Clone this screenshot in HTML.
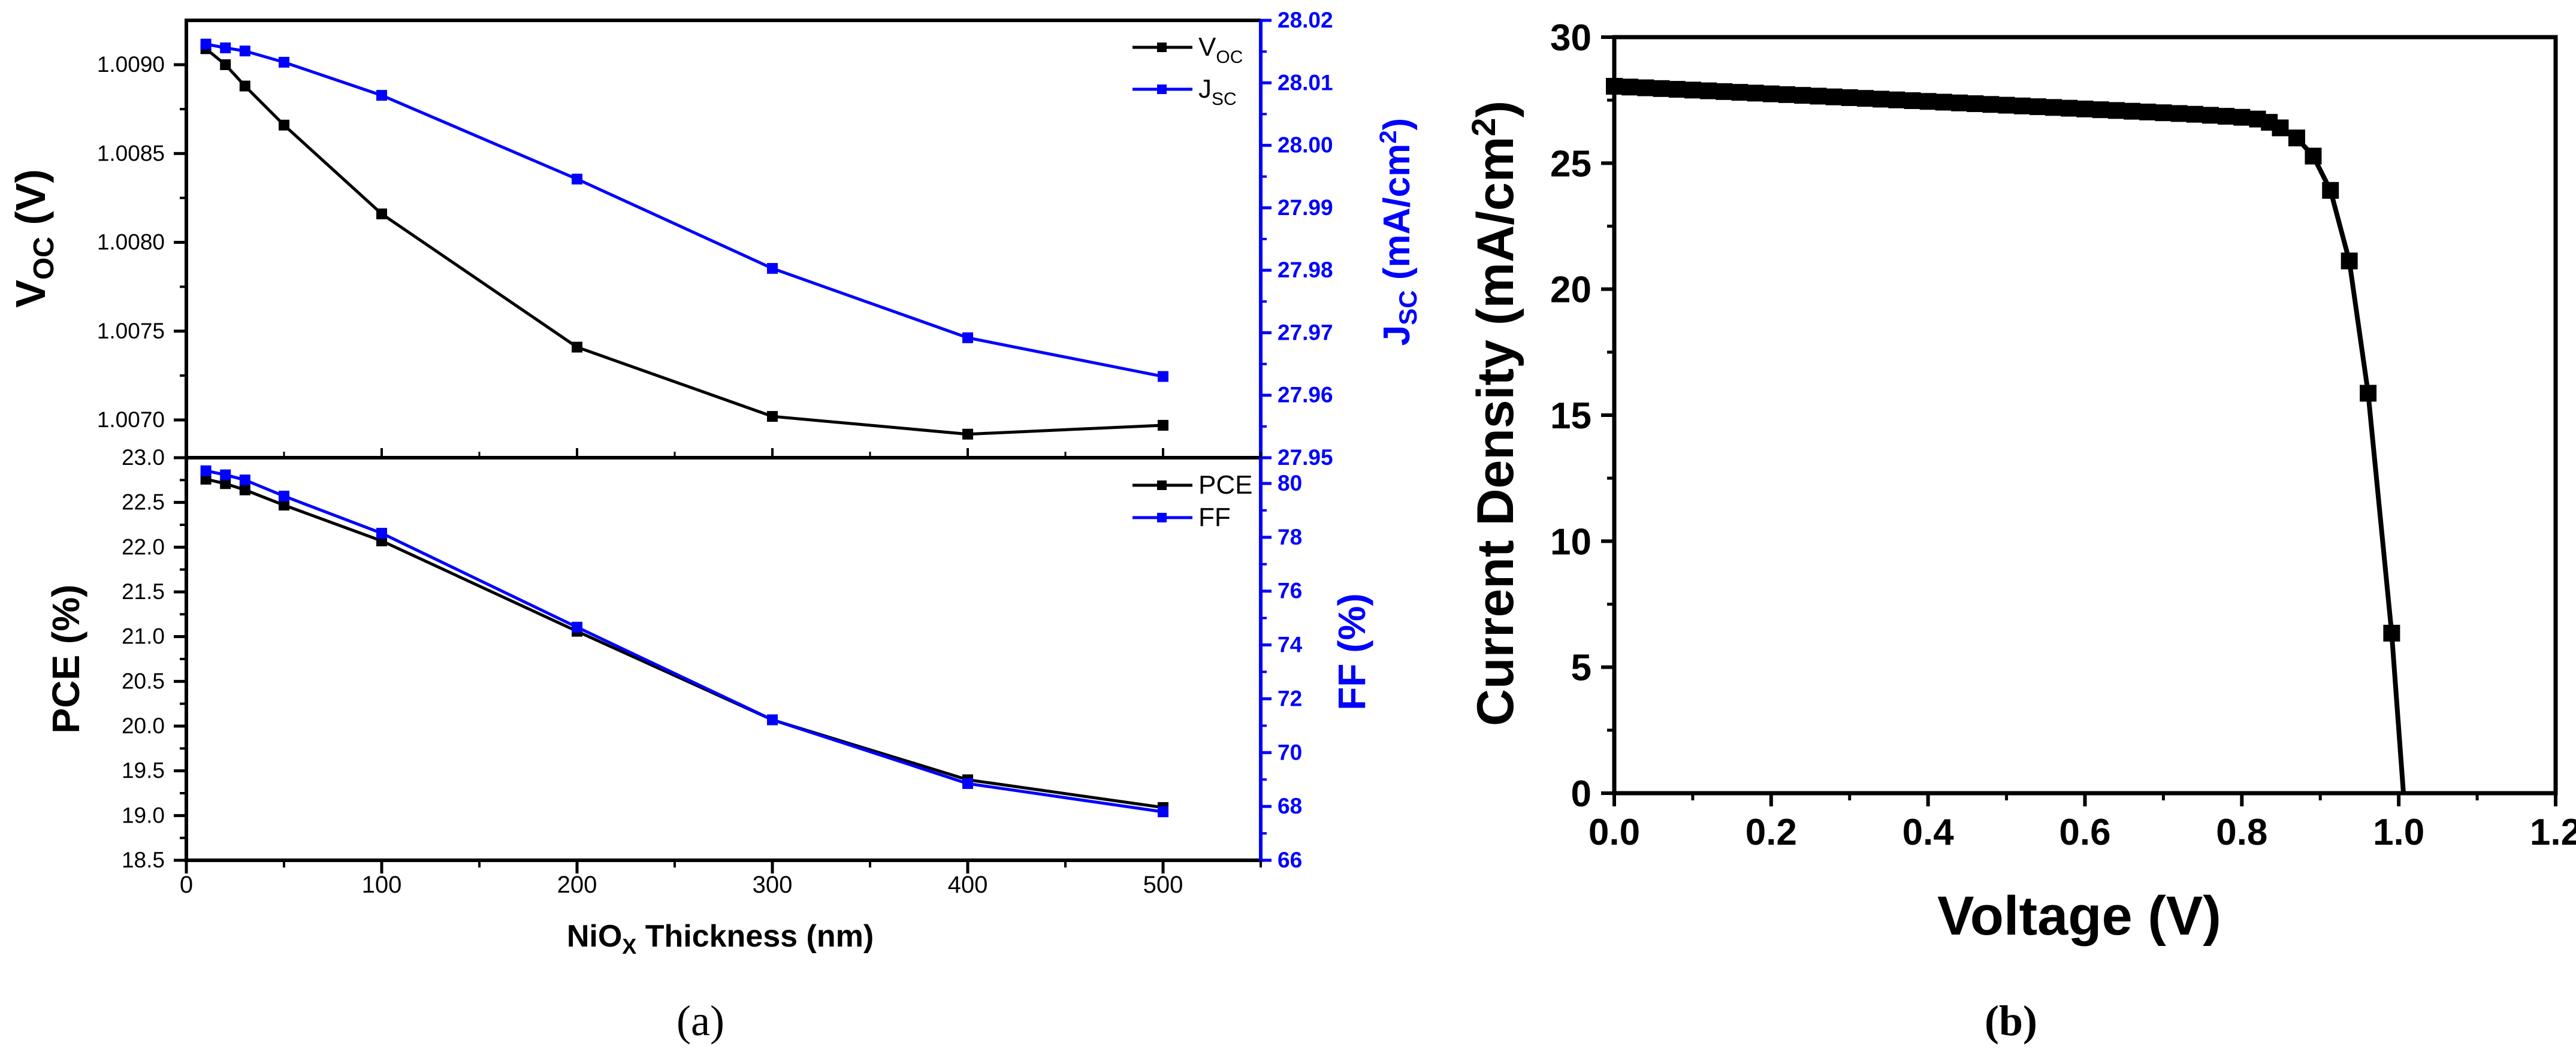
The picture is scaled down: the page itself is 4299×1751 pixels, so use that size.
<!DOCTYPE html>
<html><head><meta charset="utf-8"><style>
html,body{margin:0;padding:0;background:#fff;}
svg{display:block;}
.n{font-family:"Liberation Sans Narrow","Liberation Sans",sans-serif;}
.b{font-family:"Liberation Sans",sans-serif;font-weight:bold;}
.s{font-family:"Liberation Serif",serif;}
</style></head>
<body>
<svg id="fig" width="4299" height="1751" viewBox="0 0 4299 1751" xmlns="http://www.w3.org/2000/svg"></svg>
<script>
// ---- Panel (a) data ----
const thickness = [10,20,30,50,100,200,300,400,500];
const vocValues = [1.00909,1.00900,1.00888,1.00866,1.00816,1.00741,1.00702,1.00692,1.00697];
const jscValues = [28.0162,28.0156,28.0151,28.0133,28.0080,27.9946,27.9803,27.9692,27.9630];
const pceValues = [22.76,22.71,22.64,22.47,22.07,21.06,20.07,19.40,19.09];
const ffValues  = [80.47,80.32,80.13,79.53,78.15,74.66,71.22,68.85,67.80];
const xTicksA = [0,100,200,300,400,500];
const vocTicks = ["1.0070","1.0075","1.0080","1.0085","1.0090"];
const jscTicks = ["27.95","27.96","27.97","27.98","27.99","28.00","28.01","28.02"];
const pceTicks = ["18.5","19.0","19.5","20.0","20.5","21.0","21.5","22.0","22.5","23.0"];
const ffTicks = ["66","68","70","72","74","76","78","80"];
// ---- Panel (b) data ----
const voltage = [0,0.02,0.04,0.06,0.08,0.10,0.12,0.14,0.16,0.18,0.20,0.22,0.24,0.26,0.28,0.30,0.32,0.34,0.36,0.38,0.40,0.42,0.44,0.46,0.48,0.50,0.52,0.54,0.56,0.58,0.60,0.62,0.64,0.66,0.68,0.70,0.72,0.74,0.76,0.78,0.80,0.82,0.835,0.849,0.870,0.891,0.913,0.937,0.961,0.991];
const current = [28.05,28.02,27.99,27.96,27.93,27.90,27.87,27.84,27.81,27.78,27.75,27.72,27.69,27.66,27.63,27.60,27.57,27.54,27.51,27.48,27.45,27.42,27.39,27.36,27.33,27.30,27.27,27.24,27.21,27.18,27.15,27.12,27.09,27.06,27.03,27.00,26.97,26.94,26.90,26.86,26.82,26.75,26.62,26.40,26.00,25.28,23.92,21.12,15.87,6.35];
const vocEnd = [1.006, 0];
const xTicksB = ["0.0","0.2","0.4","0.6","0.8","1.0","1.2"];
const yTicksB = ["0","5","10","15","20","25","30"];

const NS="http://www.w3.org/2000/svg";
const svg=document.getElementById('fig');
function mk(tag,attrs,name,parent){
  const el=document.createElementNS(NS,tag);
  for(const k in attrs) el.setAttribute(k,attrs[k]);
  
  
  (parent||svg).appendChild(el);
  return el;
}
function line(x1,y1,x2,y2,c,w,name){return mk('line',{x1,y1,x2,y2,stroke:c,'stroke-width':w},name);}
function txt(x,y,s,cls,size,anchor,fill,name,extra){
  const t=mk('text',Object.assign({x,y,'class':cls,'font-size':size,'text-anchor':anchor,fill},extra||{}),name);
  t.textContent=s;return t;
}

const xA=v=>311+v*(1941-311)/500;
const yV=v=>108+(1.0090-v)/0.0005*148.25;
const yJ=v=>34+(28.02-v)/0.07*730;
const yP=v=>764+(23-v)/4.5*672;
const yF=v=>1436-(v-66)*44.93;
const xB=v=>2694+v/1.2*1571;
const yB=v=>1324-v/30*1262;

function series(xs,ys,fx,fy,color,name,ms,lw){
  const pts=xs.map((x,i)=>fx(x)+','+fy(ys[i])).join(' ');
  mk('polyline',{points:pts,fill:'none',stroke:color,'stroke-width':lw,'stroke-linejoin':'round'},name+'-line');
  xs.forEach((x,i)=>{
    mk('rect',{x:fx(x)-ms/2,y:fy(ys[i])-ms/2,width:ms,height:ms,fill:color},name+'-marker');
  });
}

line(311,34,2104,34,'#000',6,'top-panel-top-border');
line(311,31,311,1439,'#000',6,'left-axis-a');
line(308,1436,2104,1436,'#000',6,'x-axis-a');
line(308,764,2104,764,'#000',6,'panel-divider');
line(2104,34,2104,1439,'#0000ff',6,'right-axis-a');

vocTicks.forEach((s,i)=>{
  const y=yV(parseFloat(s));
  line(290,y,311,y,'#000',5,'voc-tick');
  txt(275,y+12,s,'n',37,'end','#000','voc-tick-label');
  const ym=yV(parseFloat(s)+0.00025);
  if(ym>34) line(300,ym,311,ym,'#000',4,'voc-minor-tick');
});
jscTicks.forEach((s,i)=>{
  const y=yJ(parseFloat(s));
  line(2104,y,2122,y,'#0000ff',5,'jsc-tick');
  txt(2132,y+12,s,'n',37,'start','#0000ff','jsc-tick-label',{'font-weight':'bold'});
  const ym=yJ(parseFloat(s)+0.005);
  if(ym>34) line(2104,ym,2114,ym,'#0000ff',4,'jsc-minor-tick');
});
pceTicks.forEach((s,i)=>{
  const y=yP(parseFloat(s));
  line(290,y,311,y,'#000',5,'pce-tick');
  txt(275,y+12,s,'n',37,'end','#000','pce-tick-label');
  const ym=yP(parseFloat(s)+0.25);
  if(ym>764) line(300,ym,311,ym,'#000',4,'pce-minor-tick');
});
ffTicks.forEach((s,i)=>{
  const y=yF(parseFloat(s));
  line(2104,y,2122,y,'#0000ff',5,'ff-tick');
  txt(2132,y+12,s,'n',37,'start','#0000ff','ff-tick-label',{'font-weight':'bold'});
  const ym=yF(parseFloat(s)+1);
  if(ym>764) line(2104,ym,2114,ym,'#0000ff',4,'ff-minor-tick');
});
xTicksA.forEach(v=>{
  const x=xA(v);
  line(x,1436,x,1458,'#000',5,'x-tick-a');
  line(x,764,x,748,'#000',4,'divider-tick');
  txt(x,1490,String(v),'n',40,'middle','#000','x-tick-label-a');
  const xm=xA(v+50);
  line(xm,1436,xm,1448,'#000',4,'x-minor-tick-a');
  line(xm,764,xm,754,'#000',3,'divider-minor-tick');
});

series(thickness,vocValues,xA,yV,'#000','voc-series',18,5);
series(thickness,jscValues,xA,yJ,'#0000ff','jsc-series',18,5);
series(thickness,pceValues,xA,yP,'#000','pce-series',18,5);
series(thickness,ffValues,xA,yF,'#0000ff','ff-series',18,5);

function legend(y,color,label,sub,name){
  line(1890,y,1990,y,color,5,name+'-line');
  mk('rect',{x:1931,y:y-8,width:16,height:16,fill:color},name+'-marker');
  const t=txt(2000,y+14,label,'n',44,'start','#000',name+'-label');
  if(sub){const ts=document.createElementNS(NS,'tspan');ts.setAttribute('font-size','30');ts.setAttribute('dy','12');ts.textContent=sub;t.appendChild(ts);}
}
legend(79,'#000','V','OC','legend-voc');
legend(149,'#0000ff','J','SC','legend-jsc');
legend(810,'#000','PCE','','legend-pce');
legend(864,'#0000ff','FF','','legend-ff');

(function(){
  let t=txt(0,0,'V','b',70,'middle','#000','voc-axis-title',{transform:'translate(75,398) rotate(-90)'});
  let s=document.createElementNS(NS,'tspan');s.setAttribute('font-size','48');s.setAttribute('dy','14');s.textContent='OC';t.appendChild(s);
  s=document.createElementNS(NS,'tspan');s.setAttribute('dy','-14');s.textContent=' (V)';t.appendChild(s);
  t=txt(0,0,'J','b',62,'middle','#0000ff','jsc-axis-title',{transform:'translate(2352,387) rotate(-90)'});
  s=document.createElementNS(NS,'tspan');s.setAttribute('font-size','42');s.setAttribute('dy','12');s.textContent='SC';t.appendChild(s);
  s=document.createElementNS(NS,'tspan');s.setAttribute('dy','-12');s.textContent=' (mA/cm';t.appendChild(s);
  s=document.createElementNS(NS,'tspan');s.setAttribute('font-size','40');s.setAttribute('dy','-22');s.textContent='2';t.appendChild(s);
  s=document.createElementNS(NS,'tspan');s.setAttribute('dy','22');s.textContent=')';t.appendChild(s);
  txt(0,0,'PCE (%)','b',64,'middle','#000','pce-axis-title',{transform:'translate(132,1100) rotate(-90)'});
  txt(0,0,'FF (%)','b',64,'middle','#0000ff','ff-axis-title',{transform:'translate(2278,1088) rotate(-90)'});
  t=txt(1202,1580,'NiO','n',52,'middle','#000','x-axis-title-a',{'font-weight':'bold'});
  s=document.createElementNS(NS,'tspan');s.setAttribute('font-size','36');s.setAttribute('dy','12');s.textContent='X';t.appendChild(s);
  s=document.createElementNS(NS,'tspan');s.setAttribute('dy','-12');s.textContent=' Thickness (nm)';t.appendChild(s);
})();
txt(1169,1728,'(a)','s',72,'middle','#000','caption-a');

mk('rect',{x:2694,y:62,width:1571,height:1262,fill:'none',stroke:'#000','stroke-width':7},'plot-frame-b');
yTicksB.forEach(s=>{
  const v=parseFloat(s),y=yB(v);
  line(2672,y,2694,y,'#000',6,'y-tick-b');
  txt(2656,y+22,s,'b',62,'end','#000','y-tick-label-b');
  if(v<30){const ym=yB(v+2.5);line(2682,ym,2694,ym,'#000',5,'y-minor-tick-b');}
});
xTicksB.forEach(s=>{
  const v=parseFloat(s),x=xB(v);
  line(x,1324,x,1346,'#000',6,'x-tick-b');
  txt(x,1410,s,'b',62,'middle','#000','x-tick-label-b');
  if(v<1.2){const xm=xB(v+0.1);line(xm,1324,xm,1336,'#000',5,'x-minor-tick-b');}
});
(function(){
  const xs=voltage.concat([vocEnd[0]]), ys=current.concat([vocEnd[1]]);
  const pts=xs.map((x,i)=>xB(x)+','+yB(ys[i])).join(' ');
  mk('polyline',{points:pts,fill:'none',stroke:'#000','stroke-width':8,'stroke-linejoin':'round'},'jv-curve-line');
  voltage.forEach((v,i)=>{
    mk('rect',{x:xB(v)-14,y:yB(current[i])-14,width:28,height:28,fill:'#000'},'jv-marker');
  });
})();
(function(){
  const t=txt(0,0,'Current Density (mA/cm','b',86,'middle','#000','y-axis-title-b',{transform:'translate(2525,690) rotate(-90)'});
  let s=document.createElementNS(NS,'tspan');s.setAttribute('font-size','56');s.setAttribute('dy','-30');s.textContent='2';t.appendChild(s);
  s=document.createElementNS(NS,'tspan');s.setAttribute('dy','30');s.textContent=')';t.appendChild(s);
})();
txt(3470,1560,'Voltage (V)','b',92,'middle','#000','x-axis-title-b');
txt(3356,1728,'(b)','s',72,'middle','#000','caption-b',{'font-weight':'bold'});
</script>
</body></html>
